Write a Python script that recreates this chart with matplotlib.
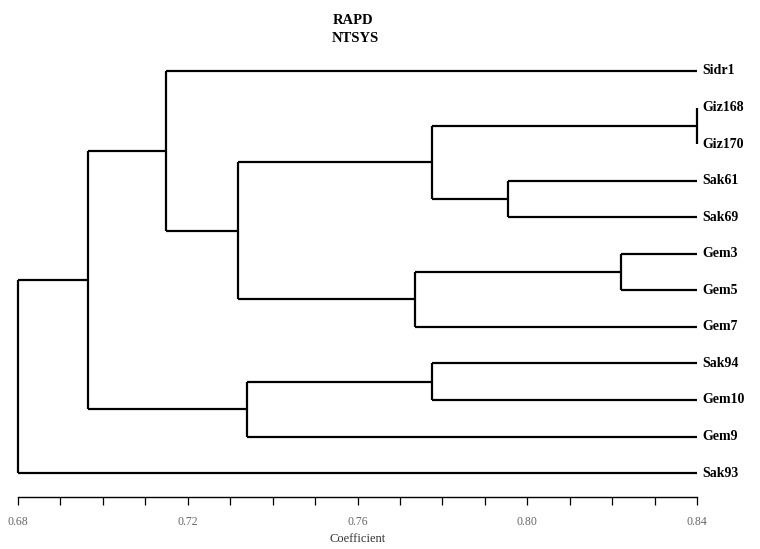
import matplotlib
matplotlib.use("Agg")
from matplotlib import pyplot as plt
from matplotlib.ticker import MultipleLocator

# leaves, top to bottom
leaves = ["Sidr1", "Giz168", "Giz170", "Sak61", "Sak69", "Gem3", "Gem5",
          "Gem7", "Sak94", "Gem10", "Gem9", "Sak93"]
# merges: (child a, child b, coefficient); node ids continue after leaves
merge_a = [1, 3, 12, 5, 15, 14, 0, 8, 19, 18, 21]
merge_b = [2, 4, 13, 6, 7, 16, 17, 9, 10, 20, 11]
merge_h = [0.84, 0.7955, 0.7775, 0.822, 0.7735, 0.7318, 0.7149, 0.7775, 0.734, 0.6965, 0.68]
x_min, x_max = 0.68, 0.84
tick_labels = ["0.68", "0.72", "0.76", "0.80", "0.84"]

plt.rcParams["font.family"] = ["Liberation Serif", "DejaVu Serif"]

fig = plt.figure(figsize=(7.6, 5.49), dpi=100)
W, H = 760, 549
ax = fig.add_axes([18 / W, (H - 497) / H, (697 - 18) / W, (497 - 50) / H])

# node positions
xs = [x_max] * len(leaves)
ys = list(range(len(leaves)))
for a, b, h in zip(merge_a, merge_b, merge_h):
    kw = dict(color="black", lw=1.6, solid_capstyle="butt", clip_on=False)
    ax.plot([h, h], [ys[a], ys[b]], **kw)
    ax.plot([h, xs[a]], [ys[a], ys[a]], **kw)
    ax.plot([h, xs[b]], [ys[b], ys[b]], **kw)
    xs.append(h)
    ys.append((ys[a] + ys[b]) / 2)

for i, name in enumerate(leaves):
    ax.text(x_max + 0.0012, i, name, va="center", ha="left", fontsize=10,
            fontweight="bold", clip_on=False)

ax.set_xlim(x_min, x_max)
ax.set_ylim((497 - 71) / 36.55, -(71 - 50) / 36.55)
ax.set_xticks([0.68, 0.72, 0.76, 0.80, 0.84])
ax.set_xticklabels(tick_labels, fontsize=8.5, color="#666666")
ax.xaxis.set_minor_locator(MultipleLocator(0.01))
ax.tick_params(axis="x", which="both", direction="out", length=6, width=0.9, pad=8)
ax.set_yticks([])
for s in ["top", "right", "left"]:
    ax.spines[s].set_visible(False)
ax.spines["bottom"].set_linewidth(1.0)
ax.set_xlabel("Coefficient", fontsize=9, color="#333333", labelpad=3)

fig.text(353 / W, 1 - 20 / H, "RAPD", ha="center", va="center", fontsize=10.5, fontweight="bold")
fig.text(355 / W, 1 - 38 / H, "NTSYS", ha="center", va="center", fontsize=10.5, fontweight="bold")

fig.savefig("out.png", dpi=100)
